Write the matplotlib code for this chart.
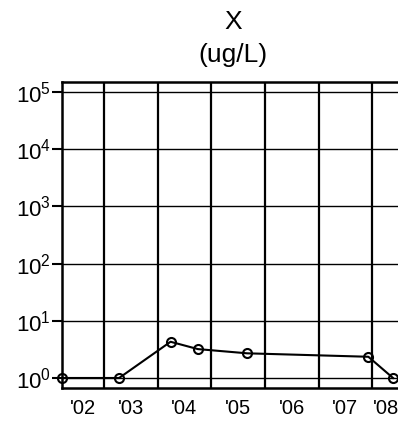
import matplotlib.pyplot as plt
import numpy as np
from matplotlib.ticker import FixedLocator, FixedFormatter, NullFormatter

plt.rcParams['font.family'] = ['Liberation Sans', 'DejaVu Sans']
plt.rcParams['mathtext.fontset'] = 'custom'
plt.rcParams['mathtext.rm'] = 'Liberation Sans'
plt.rcParams['mathtext.default'] = 'rm'

# sample dates (decimal years) and concentrations
dates = [2002.22, 2003.28, 2004.24, 2004.75, 2005.67, 2007.93, 2008.39]
values = [1.0, 1.0, 4.3, 3.2, 2.7, 2.35, 1.0]

x_start, x_end = 2002.215, 2008.52
year_edges = [2003, 2004, 2005, 2006, 2007, 2008]
year_labels = ["'02", "'03", "'04", "'05", "'06", "'07", "'08"]
decades = [1, 10, 100, 1000, 10000, 100000]

# labels sit in the middle of the visible part of each year
bounds = [x_start] + year_edges + [x_end]
label_pos = [(a + b) / 2 for a, b in zip(bounds[:-1], bounds[1:])]

fig = plt.figure(figsize=(3.98, 4.23), dpi=100)
W, H = 398, 423
ax = fig.add_axes([62 / W, 1 - 388 / H, (400 - 62) / W, (388 - 82) / H])

ax.plot(dates, values, color='black', lw=1.5, marker='o', ms=6.5,
        mfc='none', mec='black', mew=1.5, clip_on=False, zorder=5)

ax.set_yscale('log')
ax.set_ylim(10 ** -0.175, 10 ** 5.175)
ax.set_xlim(x_start, x_end)

ax.yaxis.set_major_locator(FixedLocator(decades))
ax.yaxis.set_minor_locator(FixedLocator([]))
ax.set_yticklabels([r'$10^{%d}$' % i for i in range(6)])
ax.tick_params(axis='y', which='major', direction='out', length=7, width=1.5,
               labelsize=16, pad=1)

ax.xaxis.set_major_locator(FixedLocator(year_edges))
ax.xaxis.set_major_formatter(NullFormatter())
ax.xaxis.set_minor_locator(FixedLocator(label_pos))
ax.xaxis.set_minor_formatter(FixedFormatter(year_labels))
ax.tick_params(axis='x', which='both', length=0, labelsize=14.5, pad=8)

ax.grid(True, axis='x', which='major', color='black', lw=1.6)
ax.grid(True, axis='y', which='major', color='black', lw=1)

for s in ['left', 'top', 'bottom']:
    ax.spines[s].set_linewidth(1.8)
ax.spines['right'].set_visible(False)

fig.text(233 / W, 1 - 22 / H, 'X', fontsize=19, ha='center', va='center')
fig.text(233 / W, 1 - 55 / H, '(ug/L)', fontsize=19, ha='center', va='center')

fig.savefig('out.png', dpi=100)
